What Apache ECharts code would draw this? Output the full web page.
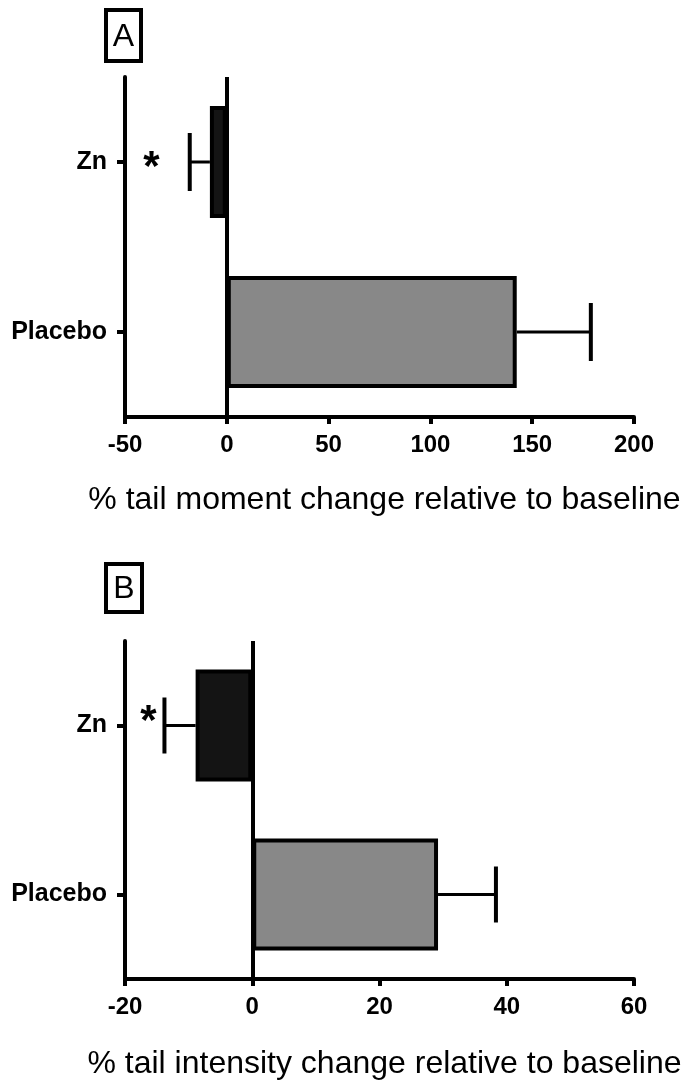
<!DOCTYPE html>
<html>
<head>
<meta charset="utf-8">
<script src="https://cdn.jsdelivr.net/npm/echarts@6/dist/echarts.min.js"></script>
<style>html,body{margin:0;padding:0;background:#fff}#c{width:685px;height:1082px}</style>
</head>
<body>
<div id="c"></div>
<script>
// Data
var categories = ['Zn', 'Placebo'];
var momentValues = [-8.3, 142.4];
var momentErrors = [-18.2, 178.8];   // end of error bar
var momentStar = [-37, null];
var intensityValues = [-8.9, 29.2];
var intensityErrors = [-13.8, 38.3];
var intensityStar = [-16.3, null];
var momentTicks = [-50, 0, 50, 100, 150, 200];
var intensityTicks = [-20, 0, 20, 40, 60];
var barColors = ['#141414', '#888888'];
var titleA = '% tail moment change relative to baseline';
var titleB = '% tail intensity change relative to baseline';

var FONT = '"Liberation Sans", Arial, Helvetica, sans-serif';
var chart = echarts.init(document.getElementById('c'), null, {renderer: 'canvas'});

function xAxisCfg(gi, ticks, name, gap) {
  return {
    type: 'value', gridIndex: gi,
    min: ticks[0], max: ticks[ticks.length - 1],
    interval: ticks[1] - ticks[0],
    splitLine: {show: false},
    axisLine: {show: true, onZero: false, lineStyle: {color: '#000', width: 4}},
    axisTick: {show: true, length: 7, lineStyle: {color: '#000', width: 4}},
    axisLabel: {color: '#000', fontFamily: FONT, fontWeight: 'bold', fontSize: 24, margin: 16},
    name: name, nameLocation: 'middle', nameGap: gap,
    nameTextStyle: {color: '#000', fontFamily: FONT, fontSize: 32, padding: [0, 0, 0, 10]}
  };
}
function yAxisCfg(gi) {
  return {
    type: 'category', gridIndex: gi, data: categories, inverse: true,
    axisLine: {show: true, onZero: false, lineStyle: {color: '#000', width: 4}},
    axisTick: {show: true, alignWithLabel: true, length: 8, lineStyle: {color: '#000', width: 4}},
    axisLabel: {color: '#000', fontFamily: FONT, fontWeight: 'bold', fontSize: 25, margin: 18},
    splitLine: {show: false}
  };
}
function barSeries(gi, vals) {
  return {
    type: 'bar', xAxisIndex: gi, yAxisIndex: gi,
    data: vals.map(function (v, i) {
      return {value: v, itemStyle: {color: barColors[i]}};
    }),
    barWidth: 112,
    itemStyle: {borderColor: '#000', borderWidth: 4},
    silent: true,
    z: 3,
    markLine: {
      symbol: 'none', silent: true, label: {show: false},
      lineStyle: {color: '#000', width: 4, type: 'solid'},
      data: [{xAxis: 0}]
    }
  };
}
function errSeries(gi, vals, errs, stars, capH, starDy) {
  return {
    type: 'custom', xAxisIndex: gi, yAxisIndex: gi, silent: true, z: 4,
    data: vals.map(function (v, i) { return [v, i, errs[i], stars[i] == null ? NaN : stars[i]]; }),
    renderItem: function (params, api) {
      var v = api.value(0), ci = api.value(1), e = api.value(2), s = api.value(3);
      var p0 = api.coord([v, ci]);
      var p1 = api.coord([e, ci]);
      var children = [
        {type: 'line', shape: {x1: p0[0], y1: p0[1], x2: p1[0], y2: p1[1]}, style: {stroke: '#000', lineWidth: 3}},
        {type: 'line', shape: {x1: p1[0], y1: p1[1] - capH / 2, x2: p1[0], y2: p1[1] + capH / 2}, style: {stroke: '#000', lineWidth: 4}}
      ];
      if (!isNaN(s)) {
        var ps = api.coord([s, ci]);
        children.push({type: 'text', x: ps[0], y: ps[1] + starDy, style: {text: '*', fill: '#000', font: 'bold 42px ' + FONT, align: 'center', verticalAlign: 'middle'}});
      }
      return {type: 'group', children: children};
    }
  };
}

chart.setOption({
  backgroundColor: '#fff',
  animation: false,
  grid: [
    {left: 125, width: 509, top: 77, height: 340},
    {left: 125, width: 509, top: 641, height: 338}
  ],
  xAxis: [xAxisCfg(0, momentTicks, titleA, 67), xAxisCfg(1, intensityTicks, titleB, 69)],
  yAxis: [yAxisCfg(0), yAxisCfg(1)],
  series: [
    barSeries(0, momentValues),
    errSeries(0, momentValues, momentErrors, momentStar, 58, 6),
    barSeries(1, intensityValues),
    errSeries(1, intensityValues, intensityErrors, intensityStar, 56, -3)
  ],
  graphic: [
    {type: 'rect', shape: {x: 106, y: 10, width: 35, height: 51}, style: {fill: '#fff', stroke: '#000', lineWidth: 4}},
    {type: 'text', x: 123.5, y: 37, style: {text: 'A', font: '32px ' + FONT, fill: '#000', align: 'center', verticalAlign: 'middle'}},
    {type: 'rect', shape: {x: 106, y: 564, width: 36, height: 48}, style: {fill: '#fff', stroke: '#000', lineWidth: 4}},
    {type: 'text', x: 124, y: 589, style: {text: 'B', font: '32px ' + FONT, fill: '#000', align: 'center', verticalAlign: 'middle'}}
  ]
});
</script>
</body>
</html>
